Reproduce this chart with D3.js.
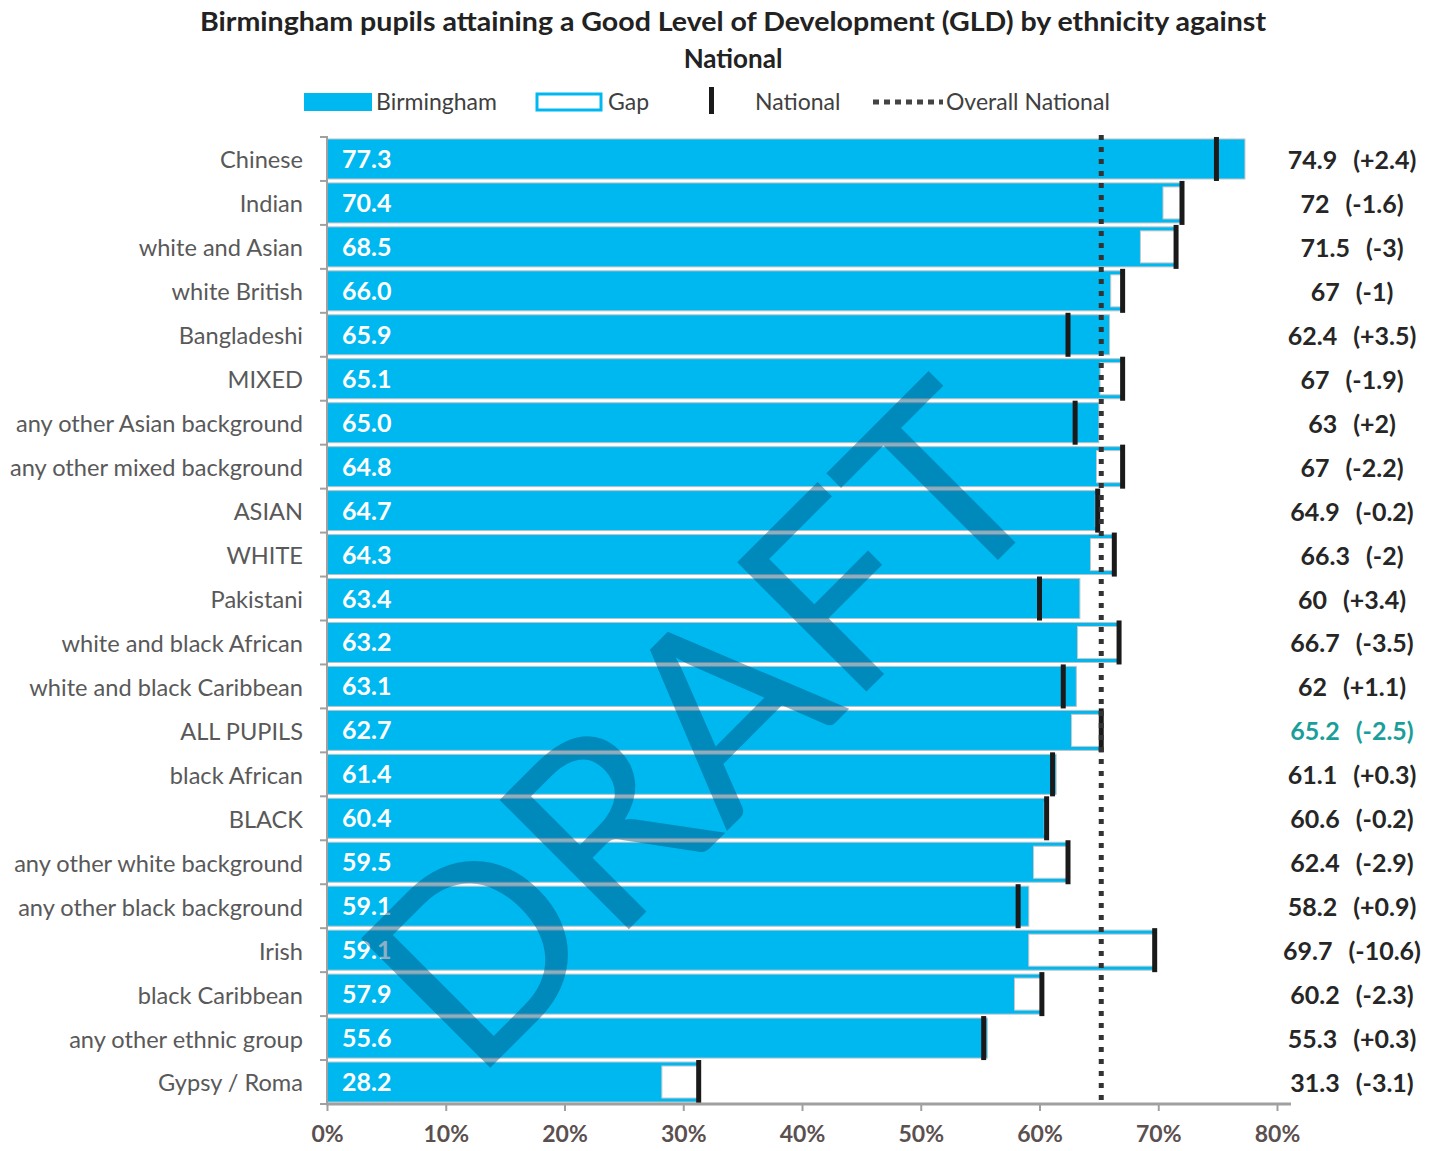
<!DOCTYPE html>
<html>
<head>
<meta charset="utf-8">
<script src="https://cdn.jsdelivr.net/npm/d3@7"></script>
<style>
  html, body { margin: 0; padding: 0; background: #fff; }
  svg { display: block; }
  text { font-family: Lato, "Open Sans", sans-serif; }
</style>
</head>
<body>
<svg id="chart" width="1437" height="1151"></svg>
<script>
const categories = [
  "Chinese", "Indian", "white and Asian", "white British", "Bangladeshi", "MIXED",
  "any other Asian background", "any other mixed background", "ASIAN", "WHITE",
  "Pakistani", "white and black African", "white and black Caribbean", "ALL PUPILS",
  "black African", "BLACK", "any other white background", "any other black background",
  "Irish", "black Caribbean", "any other ethnic group", "Gypsy / Roma"
];
const birmingham = [77.3, 70.4, 68.5, 66.0, 65.9, 65.1, 65.0, 64.8, 64.7, 64.3, 63.4, 63.2, 63.1, 62.7, 61.4, 60.4, 59.5, 59.1, 59.1, 57.9, 55.6, 28.2];
const national = [74.9, 72, 71.5, 67, 62.4, 67, 63, 67, 64.9, 66.3, 60, 66.7, 62, 65.2, 61.1, 60.6, 62.4, 58.2, 69.7, 60.2, 55.3, 31.3];
const gapLabels = ["+2.4", "-1.6", "-3", "-1", "+3.5", "-1.9", "+2", "-2.2", "-0.2", "-2", "+3.4", "-3.5", "+1.1", "-2.5", "+0.3", "-0.2", "-2.9", "+0.9", "-10.6", "-2.3", "+0.3", "-3.1"];
const xTicks = [0, 10, 20, 30, 40, 50, 60, 70, 80];
const overallNational = 65.2;
const highlightCategory = "ALL PUPILS";
const legendItems = ["Birmingham", "Gap", "National", "Overall National"];
const titleLines = ["Birmingham pupils attaining a Good Level of Development (GLD) by ethnicity against", "National"];

const CYAN = "#00b8f0";
const svg = d3.select("#chart");

const x = d3.scaleLinear().domain([0, 80]).range([327, 1277]);
const y = d3.scaleBand().domain(categories).range([137, 1104]).paddingInner(0.09).paddingOuter(0.045);
const bh = y.bandwidth();
const data = categories.map((c, i) => ({ c, b: birmingham[i], n: national[i], g: gapLabels[i] }));

// Title
svg.append("g").selectAll("text").data(titleLines).join("text")
  .attr("x", 733).attr("y", (d, i) => 31 + i * 37)
  .attr("text-anchor", "middle").attr("font-size", 26).attr("font-weight", "bold")
  .attr("fill", "#222")
  .each(function (d, i) { if (i === 0) d3.select(this).attr("textLength", 1066).attr("lengthAdjust", "spacingAndGlyphs"); })
  .text(d => d);

// Legend
const lg = svg.append("g");
lg.append("rect").attr("x", 304).attr("y", 93).attr("width", 68).attr("height", 18).attr("fill", CYAN);
lg.append("text").attr("x", 376).attr("y", 110).text(legendItems[0]);
lg.append("rect").attr("x", 537).attr("y", 94).attr("width", 64).attr("height", 16).attr("fill", "#fff").attr("stroke", CYAN).attr("stroke-width", 3);
lg.append("text").attr("x", 608).attr("y", 110).text(legendItems[1]);
lg.append("rect").attr("x", 709).attr("y", 87).attr("width", 5).attr("height", 27).attr("fill", "#1a1a1a");
lg.append("text").attr("x", 755).attr("y", 110).text(legendItems[2]);
lg.append("line").attr("x1", 873).attr("x2", 943).attr("y1", 102).attr("y2", 102)
  .attr("stroke", "#444").attr("stroke-width", 5).attr("stroke-dasharray", "6,5");
lg.append("text").attr("x", 946).attr("y", 110).text(legendItems[3]);
lg.selectAll("text").attr("font-size", 23).attr("fill", "#404040");

// Bars
const bars = svg.append("g");
bars.selectAll("rect.bham").data(data).join("rect").attr("class", "bham")
  .attr("x", x(0)).attr("y", d => y(d.c))
  .attr("width", d => x(Math.max(d.b, d.n)) - x(0)).attr("height", bh)
  .attr("fill", CYAN).attr("stroke", "#b8c4c8").attr("stroke-width", 1);
bars.selectAll("rect.gap").data(data.filter(d => d.n > d.b)).join("rect").attr("class", "gap")
  .attr("x", d => x(d.b)).attr("y", d => y(d.c) + 4)
  .attr("width", d => x(d.n) - x(d.b)).attr("height", bh - 8)
  .attr("fill", "#fff").attr("stroke", "#c8c8c8").attr("stroke-width", 1);

// Overall national dotted line
svg.append("line").attr("x1", x(overallNational)).attr("x2", x(overallNational))
  .attr("y1", 135).attr("y2", 1104)
  .attr("stroke", "#333").attr("stroke-width", 5).attr("stroke-dasharray", "5,7");

// National markers
bars.selectAll("rect.nat").data(data).join("rect").attr("class", "nat")
  .attr("x", d => x(d.n) - 2.5).attr("y", d => y(d.c) - 2)
  .attr("width", 5).attr("height", bh + 4).attr("fill", "#1a1a1a");

// Value labels inside bars
bars.selectAll("text.val").data(data).join("text").attr("class", "val")
  .attr("x", 342).attr("y", d => y(d.c) + bh / 2 + 9)
  .attr("font-size", 25).attr("font-weight", "bold").attr("fill", "#fff")
  .text(d => d3.format(".1f")(d.b));

// Right labels
const rl = svg.append("g").selectAll("text").data(data).join("text")
  .attr("x", 1352).attr("y", d => y(d.c) + bh / 2 + 10)
  .attr("text-anchor", "middle").attr("font-size", 25).attr("font-weight", "bold")
  .attr("fill", d => d.c === highlightCategory ? "#1a9e9a" : "#262626");
rl.append("tspan").text(d => `${d.n}`);
rl.append("tspan").attr("dx", 16).text(d => `(${d.g})`);

// Y axis
const yAxis = svg.append("g").attr("transform", `translate(${x(0)},0)`)
  .call(d3.axisLeft(y).tickSize(0).tickPadding(24));
yAxis.select(".domain").remove();
yAxis.selectAll("text").attr("font-size", 23.6).attr("fill", "#595959").attr("font-family", "Lato, sans-serif").attr("dy", "0.4em");
svg.append("line").attr("x1", x(0)).attr("x2", x(0)).attr("y1", 136).attr("y2", 1104)
  .attr("stroke", "#a0a0a0").attr("stroke-width", 2);
const bounds = categories.map(c => y(c) - y.step() * y.paddingInner() / 2).concat([1104]);
svg.append("g").selectAll("line").data(bounds).join("line")
  .attr("x1", x(0) - 7).attr("x2", x(0)).attr("y1", d => d).attr("y2", d => d)
  .attr("stroke", "#a0a0a0").attr("stroke-width", 2);

// X axis
const xAxis = svg.append("g").attr("transform", "translate(0,1104)")
  .call(d3.axisBottom(x).tickValues(xTicks).tickFormat(d => d + "%").tickSize(7).tickSizeOuter(0).tickPadding(15));
xAxis.select(".domain").attr("stroke", "#a0a0a0").attr("stroke-width", 3).attr("d", `M${x(0) - 1},0H${x(80) + 14}`);
xAxis.selectAll(".tick line").attr("stroke", "#a0a0a0").attr("stroke-width", 2);
xAxis.selectAll("text").attr("font-size", 23).attr("font-weight", "bold").attr("fill", "#5b5050").attr("font-family", "Lato, sans-serif");

// DRAFT watermark
svg.append("text")
  .attr("transform", "translate(767,791) rotate(-45)")
  .attr("text-anchor", "middle")
  .attr("font-size", 255)
  .attr("textLength", 830).attr("lengthAdjust", "spacingAndGlyphs")
  .attr("fill", "#00507a").attr("fill-opacity", 0.45)
  .text("DRAFT");
</script>
</body>
</html>
